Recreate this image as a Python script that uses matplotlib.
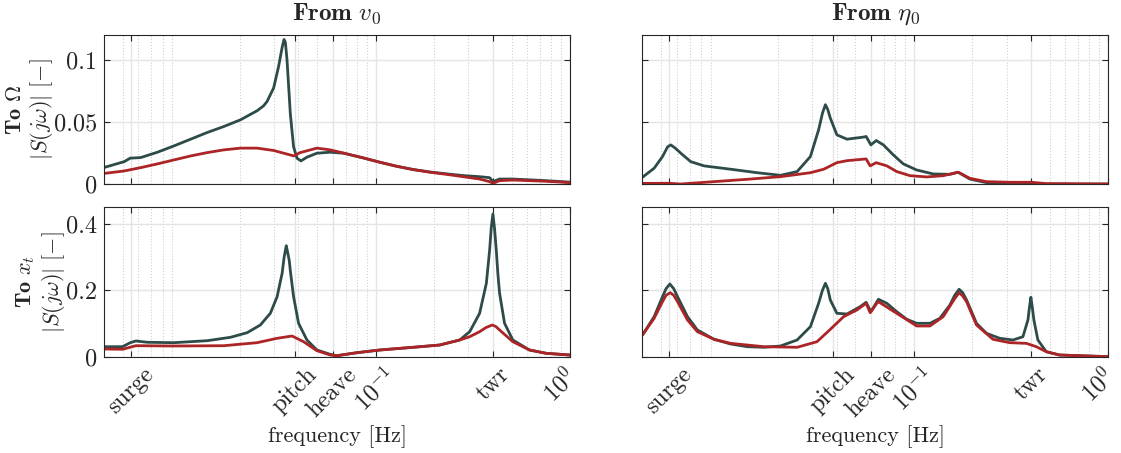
import numpy as np
import matplotlib
matplotlib.use("Agg")
import matplotlib.pyplot as plt
import matplotlib.transforms as mtransforms
from matplotlib.ticker import FixedLocator, LogLocator, NullFormatter

plt.rcParams['font.family'] = 'serif'
plt.rcParams['font.serif'] = ['cmr10']
plt.rcParams['mathtext.fontset'] = 'cm'
plt.rcParams['axes.formatter.use_mathtext'] = True
plt.rcParams['axes.unicode_minus'] = False

# natural frequencies used as x ticks [Hz]
f_surge, f_pitch, f_heave, f_twr = 0.0055, 0.0383, 0.06, 0.40
xtick_pos = [f_surge, f_pitch, f_heave, 0.1, f_twr, 1.0]
xtick_lab = ['surge', 'pitch', 'heave', r'$10^{-1}$', 'twr', r'$10^{0}$']

# ---- from v0 to Omega
f_vo_dark = [0.00404, 0.00508, 0.00545, 0.00618, 0.00753, 0.00916, 0.01116, 0.01359,
             0.01654, 0.02014, 0.02453, 0.0265, 0.02761, 0.02985, 0.03166, 0.0330, 0.03375,
             0.0343, 0.03497, 0.03635, 0.03779, 0.03935, 0.04124, 0.04427, 0.04982,
             0.0583, 0.06822, 0.0864, 0.1052, 0.1281, 0.1559, 0.1899, 0.2312, 0.2813,
             0.3426, 0.3858, 0.401, 0.434, 0.5077, 0.7531, 1.0]
s_vo_dark = [0.0135, 0.018, 0.0208, 0.0213, 0.0256, 0.0307, 0.0361, 0.0415,
             0.0463, 0.0517, 0.059, 0.063, 0.0665, 0.0774, 0.0948, 0.110, 0.1164,
             0.114, 0.100, 0.057, 0.030, 0.0208, 0.0186, 0.0216, 0.0248,
             0.0256, 0.0248, 0.021, 0.0175, 0.0143, 0.0117, 0.0097, 0.0082, 0.0068,
             0.0059, 0.0051, 0.0019, 0.004, 0.004, 0.0027, 0.0015]
f_vo_red = [0.00404, 0.00508, 0.00618, 0.00753, 0.00916, 0.01116, 0.01359, 0.01654,
            0.02014, 0.02453, 0.02985, 0.03635, 0.03779, 0.0409, 0.04982, 0.0583,
            0.071, 0.0864, 0.1052, 0.1281, 0.1559, 0.1899, 0.2312, 0.2813, 0.3426,
            0.3858, 0.401, 0.434, 0.5077, 0.7531, 1.0]
s_vo_red = [0.0086, 0.0105, 0.0132, 0.0162, 0.0194, 0.0226, 0.0253, 0.0275,
            0.0289, 0.0289, 0.027, 0.0234, 0.0226, 0.0253, 0.0289, 0.0275,
            0.0243, 0.021, 0.0175, 0.0143, 0.0116, 0.0095, 0.0078, 0.0059, 0.004,
            0.0019, 0.0006, 0.0027, 0.0032, 0.0022, 0.0011]

# ---- from v0 to x_t
f_vx_dark = [0.00404, 0.00498, 0.00545, 0.00583, 0.00669, 0.00916, 0.01359, 0.0179,
             0.0218, 0.0255, 0.0287, 0.0311, 0.033, 0.0338, 0.03467, 0.0359, 0.03635,
             0.03779, 0.0401, 0.04427, 0.04982, 0.0583, 0.0631, 0.0799, 0.1052, 0.1559,
             0.2137, 0.2706, 0.3046, 0.3426, 0.3710, 0.3858, 0.3934, 0.401, 0.409,
             0.4173, 0.4253, 0.434, 0.4603, 0.5077, 0.6183, 0.7531, 1.0]
s_vx_dark = [0.0301, 0.0301, 0.042, 0.0473, 0.0434, 0.0422, 0.0482, 0.0584,
             0.0723, 0.0955, 0.1307, 0.1807, 0.2512, 0.30, 0.3343, 0.29, 0.26,
             0.181, 0.1005, 0.0503, 0.0202, 0.0072, 0.003, 0.012, 0.0202, 0.0283,
             0.0352, 0.0503, 0.0753, 0.1307, 0.221, 0.3214, 0.39, 0.4298, 0.385,
             0.3214, 0.25, 0.191, 0.1006, 0.0503, 0.0202, 0.0102, 0.005]
f_vx_red = [0.00404, 0.00498, 0.00583, 0.00916, 0.01654, 0.02453, 0.0311, 0.0371,
            0.04253, 0.04982, 0.0583, 0.0631, 0.0799, 0.1052, 0.1559, 0.2137,
            0.2706, 0.3046, 0.3426, 0.37, 0.398, 0.415, 0.434, 0.5077, 0.6183, 0.7531, 1.0]
s_vx_red = [0.0232, 0.0223, 0.0331, 0.0322, 0.0331, 0.0422, 0.0554, 0.0623,
            0.0452, 0.0181, 0.0051, 0.003, 0.012, 0.0202, 0.0283, 0.0352,
            0.0503, 0.0602, 0.0753, 0.088, 0.0955, 0.091, 0.0804, 0.0452, 0.0202, 0.0102, 0.005]

# ---- from eta0 to Omega
f_eo_dark = [0.00404, 0.0046, 0.00508, 0.0054, 0.0056, 0.0059, 0.00631, 0.0071, 0.00831,
             0.01139, 0.0156, 0.02055, 0.02503, 0.0293, 0.0323, 0.0338, 0.035, 0.036,
             0.0371, 0.0401, 0.0452, 0.055, 0.0567, 0.0600, 0.0639, 0.0696, 0.0783,
             0.0881, 0.1032, 0.1256, 0.153, 0.1687, 0.1937, 0.2359, 0.3107, 0.4028,
             0.4791, 1.0]
s_eo_dark = [0.0059, 0.0127, 0.0221, 0.030, 0.0315, 0.029, 0.0248, 0.018, 0.0146,
             0.0119, 0.0091, 0.007, 0.010, 0.0221, 0.0437, 0.057, 0.0639, 0.060,
             0.0531, 0.0396, 0.0361, 0.0378, 0.0383, 0.0315, 0.035, 0.0315, 0.0234,
             0.0162, 0.0113, 0.0081, 0.0078, 0.0095, 0.004, 0.0011, 0.0005, 0.0005,
             0.0, 0.0]
f_eo_red = [0.00404, 0.00548, 0.00631, 0.00935, 0.01387, 0.02055, 0.0293, 0.0343,
            0.0401, 0.0452, 0.055, 0.0567, 0.0595, 0.0639, 0.0725, 0.0815, 0.0954,
            0.1162, 0.1413, 0.1687, 0.1937, 0.2359, 0.3107, 0.4028, 0.4791, 1.0]
s_eo_red = [0.0005, 0.0006, 0.0, 0.0019, 0.0038, 0.0059, 0.0091, 0.0119,
            0.0172, 0.0188, 0.020, 0.0202, 0.0146, 0.0172, 0.0146, 0.010, 0.0067,
            0.0057, 0.0067, 0.0095, 0.0046, 0.0019, 0.0014, 0.0014, 0.0003, 0.0]

# ---- from eta0 to x_t
f_ex_dark = [0.00404, 0.0046, 0.00508, 0.0053, 0.00554, 0.0058, 0.00607, 0.00683,
             0.00768, 0.00935, 0.01139, 0.01387, 0.01688, 0.02055, 0.02503, 0.0293,
             0.0323, 0.0338, 0.035, 0.036, 0.0371, 0.0401, 0.0452, 0.0528, 0.0567,
             0.06, 0.0656, 0.0725, 0.0815, 0.0918, 0.1032, 0.1208, 0.1359, 0.153,
             0.162, 0.1707, 0.178, 0.1864, 0.2097, 0.2359, 0.2761, 0.3229, 0.3635,
             0.3857, 0.393, 0.3995, 0.406, 0.4139, 0.434, 0.4791, 0.5605, 1.0]
s_ex_dark = [0.0684, 0.1205, 0.1807, 0.205, 0.219, 0.205, 0.1807, 0.1205,
             0.0804, 0.0524, 0.0382, 0.0301, 0.0283, 0.0322, 0.0503, 0.0904,
             0.1608, 0.20, 0.221, 0.205, 0.1708, 0.1307, 0.1286, 0.1506, 0.1639,
             0.1355, 0.1729, 0.1608, 0.1355, 0.1127, 0.1006, 0.1006, 0.1157, 0.1557,
             0.185, 0.203, 0.193, 0.1708, 0.1006, 0.0705, 0.0554, 0.0503, 0.0602,
             0.1105, 0.15, 0.1789, 0.15, 0.1105, 0.0503, 0.0151, 0.0051, 0.0]
f_ex_red = [0.00404, 0.0046, 0.00508, 0.0053, 0.00556, 0.0058, 0.00607, 0.00683,
            0.00768, 0.00935, 0.01139, 0.01688, 0.02503, 0.0317, 0.0371, 0.0434,
            0.0508, 0.0567, 0.0595, 0.0644, 0.0656, 0.0815, 0.1032, 0.1208, 0.1413,
            0.162, 0.1707, 0.178, 0.1864, 0.2097, 0.255, 0.3107, 0.3784, 0.4258,
            0.4791, 0.5605, 1.0]
s_ex_red = [0.0684, 0.1155, 0.1657, 0.185, 0.1928, 0.185, 0.1657, 0.1105,
            0.0753, 0.0524, 0.0402, 0.0301, 0.0283, 0.0452, 0.0824, 0.1205,
            0.1406, 0.1608, 0.1325, 0.1608, 0.1657, 0.1307, 0.0925, 0.0925, 0.1205,
            0.175, 0.1928, 0.183, 0.1657, 0.0955, 0.0524, 0.0422, 0.0402, 0.0301,
            0.0151, 0.0051, 0.0]

c_dark = '#2d4b49'
c_red = '#ad2426'
c_txt = '#262626'
fs_tick = 17.5
fs_lab = 16

fig = plt.figure(figsize=(11.21, 4.53), dpi=100)
w, htop, hbot = 0.4157, 0.3289, 0.3298
x0s = [0.0928, 0.573]
y0s = [0.5938, 0.2126]

panels = [[(f_vo_dark, s_vo_dark, f_vo_red, s_vo_red), (f_eo_dark, s_eo_dark, f_eo_red, s_eo_red)],
          [(f_vx_dark, s_vx_dark, f_vx_red, s_vx_red), (f_ex_dark, s_ex_dark, f_ex_red, s_ex_red)]]
ylims = [0.12, 0.45]
yticks = [[0, 0.05, 0.1], [0, 0.2, 0.4]]
yticklab = [['0', '0.05', '0.1'], ['0', '0.2', '0.4']]
ylabels = [r'$\mathbf{To\ \Omega}$' + '\n' + r'$|S(j\omega)|\ [-]$',
           r'$\mathbf{To}\ \boldsymbol{x_t}$' + '\n' + r'$|S(j\omega)|\ [-]$']
ylabel_x = [-0.106, -0.079]
titles = [r'$\mathbf{From}\ \boldsymbol{v_0}$', r'$\mathbf{From}\ \boldsymbol{\eta_0}$']

for r in range(2):
    for c in range(2):
        ax = fig.add_axes([x0s[c], y0s[r], w, htop if r == 0 else hbot])
        fd, sd, fr, sr = panels[r][c]
        ax.plot(fd, sd, color=c_dark, lw=2.0, solid_joinstyle='round')
        ax.plot(fr, sr, color=c_red, lw=2.0, solid_joinstyle='round')
        ax.set_xscale('log')
        ax.set_xlim(0.004, 1.0)
        ax.set_ylim(0, ylims[r])
        ax.xaxis.set_major_locator(FixedLocator(xtick_pos))
        ax.xaxis.set_minor_locator(LogLocator(base=10, subs=np.arange(2, 10)))
        ax.xaxis.set_minor_formatter(NullFormatter())
        ax.set_yticks(yticks[r])
        ax.grid(True, which='major', color='#e4e4e4', lw=1.0, ls='-')
        ax.grid(True, which='minor', axis='x', color='#cfcfcf', lw=0.8, ls=':')
        ax.set_axisbelow(True)
        ax.tick_params(which='major', direction='in', length=4, width=0.8,
                       top=True, right=True, colors=c_txt, pad=5)
        ax.tick_params(which='minor', length=0)
        for sp in ax.spines.values():
            sp.set_color(c_txt)
            sp.set_linewidth(0.8)
        if c == 0:
            ax.set_yticklabels(yticklab[r], fontsize=fs_tick)
            ax.set_ylabel(ylabels[r], fontsize=fs_lab, color=c_txt, linespacing=1.15)
            ax.yaxis.set_label_coords(ylabel_x[r], 0.5)
        else:
            ax.set_yticklabels([])
        if r == 0:
            ax.set_xticklabels([])
            ax.set_title(titles[c], fontsize=18, color=c_txt, pad=11)
        else:
            ax.set_xticklabels(xtick_lab, rotation=45, fontsize=fs_tick)
            last = ax.get_xticklabels()[-1]
            last.set_transform(last.get_transform() +
                               mtransforms.ScaledTranslation(-7 / 72, 0, fig.dpi_scale_trans))
            ax.set_xlabel('frequency [Hz]', fontsize=fs_lab, color=c_txt)
            ax.xaxis.set_label_coords(0.5, -0.46)

plt.savefig('out.png', dpi=100)
